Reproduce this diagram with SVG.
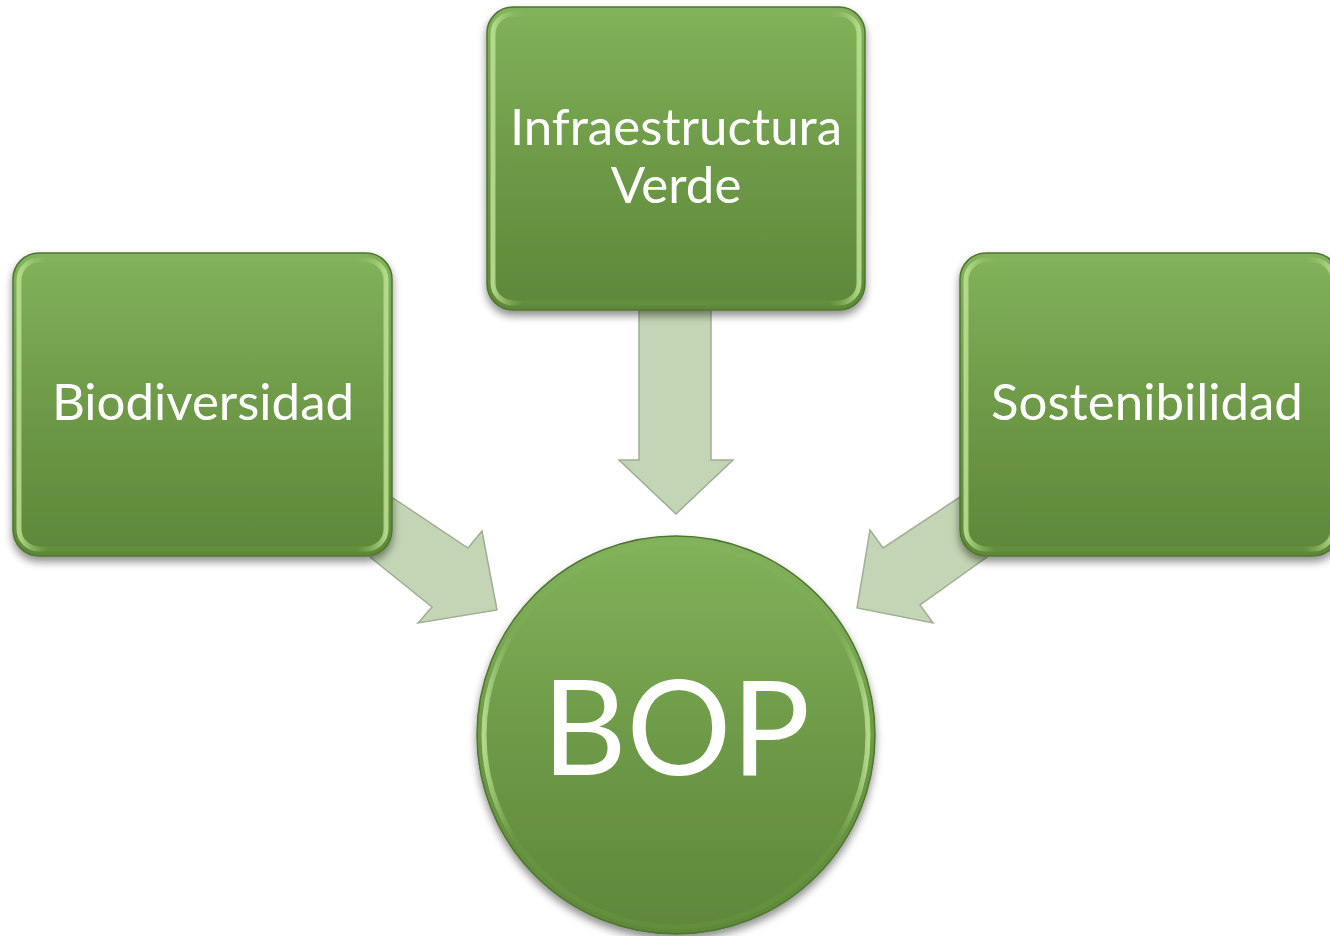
<svg xmlns="http://www.w3.org/2000/svg" width="1330" height="936" viewBox="0 0 1330 936">
<defs>
<linearGradient id="gFill" x1="0" y1="0" x2="0" y2="1">
<stop offset="0" stop-color="#82b25b"/>
<stop offset="0.5" stop-color="#6e9a48"/>
<stop offset="1" stop-color="#5d8838"/>
</linearGradient>
<linearGradient id="gEdge" x1="0" y1="0" x2="1" y2="0">
<stop offset="0" stop-color="#b9e090" stop-opacity="0.9"/>
<stop offset="0.08" stop-color="#8fbf63" stop-opacity="0.1"/>
<stop offset="0.92" stop-color="#8fbf63" stop-opacity="0.1"/>
<stop offset="1" stop-color="#b9e090" stop-opacity="0.9"/>
</linearGradient>
<filter id="shadow" x="-10%" y="-10%" width="120%" height="125%">
<feGaussianBlur in="SourceAlpha" stdDeviation="4"/>
<feOffset dx="0" dy="5"/>
<feComponentTransfer><feFuncA type="linear" slope="0.45"/></feComponentTransfer>
<feMerge><feMergeNode/><feMergeNode in="SourceGraphic"/></feMerge>
</filter>
</defs>
<style>
.box{fill:url(#gFill);stroke:#4f7530;stroke-width:1.5}
.bevel{fill:none;stroke:url(#gEdge);stroke-width:5}
.arrow{fill:#c3d5b4;stroke:#9fae95;stroke-width:1.5;stroke-linejoin:miter}
.lbl{font-family:Lato,"Liberation Sans",sans-serif;fill:#ffffff;text-anchor:middle}
</style>
<g id="connectors">
<polygon class="arrow" points="639,310 711,310 711,460 733,460 676,514 619,460 639,460"/>
<polygon class="arrow" points="393,498 468,548 482,531 497,610 418,623 432,607 370,557"/>
<polygon class="arrow" points="960,497 883,548 870,530 857,608 933,623 920,605 987,557"/>
</g>
<g id="node-infraestructura" filter="url(#shadow)">
<rect class="box" x="487" y="7" width="378" height="303" rx="26"/>
<rect class="bevel" x="493" y="14" width="366" height="289" rx="20"/>
<text class="lbl" x="676" y="145" font-size="51">Infraestructura</text>
<text class="lbl" x="676" y="203" font-size="51">Verde</text>
</g>
<g id="node-biodiversidad" filter="url(#shadow)">
<rect class="box" x="13" y="253" width="379" height="303" rx="26"/>
<rect class="bevel" x="19" y="260" width="367" height="289" rx="20"/>
<text class="lbl" x="203" y="420" font-size="51">Biodiversidad</text>
</g>
<g id="node-sostenibilidad" filter="url(#shadow)">
<rect class="box" x="960" y="253" width="379" height="303" rx="26"/>
<rect class="bevel" x="966" y="260" width="367" height="289" rx="20"/>
<text class="lbl" x="1147" y="420" font-size="51">Sostenibilidad</text>
</g>
<g id="node-bop" filter="url(#shadow)">
<circle class="box" cx="676" cy="735" r="199"/>
<circle class="bevel" cx="676" cy="735" r="192"/>
<text class="lbl" x="676" y="775" font-size="131">BOP</text>
</g>
</svg>
